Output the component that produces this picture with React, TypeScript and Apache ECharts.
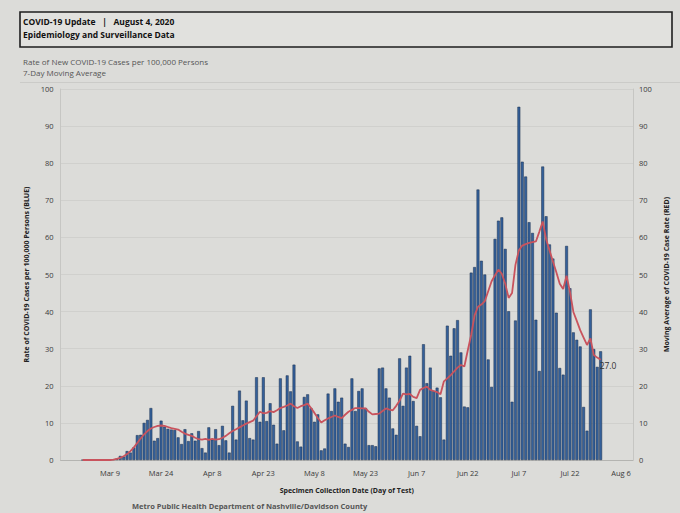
import * as echarts from 'echarts';
import { useEffect, useRef } from 'react';

// x axis runs Feb 24 .. Aug 9, 2020; data starts Mar 1
const axisStart = [2020, 1, 24];
const axisDays = 168;
const dataOffset = 6;
const monthNames = ['Jan', 'Feb', 'Mar', 'Apr', 'May', 'Jun', 'Jul', 'Aug', 'Sep', 'Oct', 'Nov', 'Dec'];
const tickLabels = ['Mar 9', 'Mar 24', 'Apr 8', 'Apr 23', 'May 8', 'May 23', 'Jun 7', 'Jun 22', 'Jul 7', 'Jul 22', 'Aug 6'];

// daily rate per 100,000 (blue bars), Mar 1 .. Jul 31
const dailyRate = [
    0, 0, 0, 0, 0, 0, 0, 0, 0.1, 0.2, 0.4,
    1.1, 0.9, 2.4, 2.0, 3.4, 6.7, 6.8, 10.0, 10.8, 14.0,
    5.2, 5.9, 10.6, 9.0, 8.4, 8.2, 8.1, 6.1, 4.3, 8.3, 5.1,
    7.2, 5.2, 7.8, 3.2, 2.0, 8.8, 5.5, 8.3, 4.0, 9.2,
    5.3, 2.0, 14.6, 5.5, 18.7, 10.7, 16.0, 5.9, 5.5, 22.3,
    10.3, 22.3, 10.5, 15.3, 9.5, 4.4, 22.0, 8.0, 22.8, 18.5,
    25.7, 5.0, 3.6, 17.0, 17.7, 14.0, 10.3, 12.3, 2.6, 3.1,
    17.9, 13.2, 19.3, 15.7, 16.8, 4.4, 3.5, 22.0, 13.2, 18.6,
    19.3, 14.0, 4.0, 4.0, 3.7, 24.7, 24.9, 19.3, 16.8, 8.5, 6.8,
    27.4, 14.6, 24.9, 28.1, 15.9, 9.2, 6.4, 31.2, 20.7, 24.9,
    18.6, 19.5, 16.9, 5.5, 36.2, 28.1, 35.5, 37.7, 29.0, 14.4,
    14.2, 50.5, 52.0, 72.9, 53.7, 50.0, 27.1, 19.7, 59.6, 64.5,
    65.4, 56.9, 40.1, 15.7, 37.6, 95.2, 80.4, 76.4, 64.1, 61.2,
    37.8, 24.0, 79.1, 65.7, 58.1, 54.3, 39.7, 24.8, 23.0, 57.7,
    46.3, 34.4, 32.4, 30.6, 14.3, 7.9, 40.6, 29.9, 25.1, 29.3
];

// 7-day moving average (red line), Mar 1 .. Jul 31
const movingAvg = [
    0, 0, 0, 0, 0, 0, 0, 0, 0,
    0.1, 0.3, 0.6, 1.0, 1.6, 2.4, 3.4, 4.6, 5.8, 6.9, 7.8, 8.5, 8.9, 9.2, 9.3, 9.2, 8.9, 8.6, 8.4, 8.2, 7.6, 7.1,
    6.8, 6.5, 6.0, 5.6, 5.5, 5.7, 5.4, 5.7, 5.5, 5.6, 6.0, 6.5, 7.2, 7.8, 8.3,
    8.8, 9.3, 9.8, 10.2, 10.6, 11.8, 13.0, 12.6, 12.7, 13.2, 12.9, 13.4, 14.0, 14.3, 14.7,
    15.2, 14.5, 14.0, 14.5, 14.8, 15.2, 14.0, 12.7, 11.3, 10.1, 10.7, 11.2, 11.6, 12.0, 11.6, 11.3,
    12.2, 13.0, 13.5, 14.0, 14.0, 13.9, 13.9, 13.0, 12.3, 12.4, 12.5, 13.2, 13.9, 13.6, 13.4,
    14.6, 16.0, 17.9, 17.7, 17.8, 17.0, 16.7, 18.9, 19.4, 19.8, 18.9, 18.6, 18.3, 17.7, 21.2,
    22.0, 22.9, 23.9, 24.9, 25.6, 25.2, 29.5, 33.7, 39.0, 41.3, 41.9, 42.8, 45.5, 48.2, 49.8,
    51.3, 50.2, 47.5, 43.7, 45.0, 52.6, 56.5, 57.8, 58.2, 58.5, 58.7, 58.9, 61.5, 64.3, 59.5,
    56.5, 53.5, 50.6, 47.5, 46.1, 49.7, 45.3, 39.9, 37.5, 35.0, 33.0, 31.0, 32.8, 28.3, 27.6, 27.0
];

const categories: string[] = [];
for (let i = 0; i < axisDays; i++) {
    const d = new Date(axisStart[0], axisStart[1], axisStart[2] + i);
    categories.push(monthNames[d.getMonth()] + ' ' + d.getDate());
}
const pad = new Array(dataOffset).fill(null);

const FONT = '"Open Sans", "Noto Sans", sans-serif';

const App = () => {
    const divRef = useRef<HTMLDivElement>(null);

    useEffect(() => {
        document.body.style.margin = '0';
        const chart = echarts.init(divRef.current!, null, { renderer: 'svg' });

        chart.setOption({
            animation: false,
            backgroundColor: '#dcdcd9',
            textStyle: { fontFamily: FONT },
            grid: { left: 60.6, right: 47, top: 89, bottom: 53 },
            xAxis: {
                type: 'category',
                data: categories,
                boundaryGap: true,
                axisTick: { show: false },
                axisLine: { lineStyle: { color: '#b4b4b1', width: 1 } },
                axisLabel: {
                    interval: (index: number, value: string) => tickLabels.includes(value),
                    fontSize: 7.5,
                    color: '#3a3a3a',
                    margin: 9,
                    fontFamily: FONT
                },
                name: 'Specimen Collection Date (Day of Test)',
                nameLocation: 'middle',
                nameGap: 27,
                nameTextStyle: { fontSize: 7, fontWeight: 'bold', color: '#222', fontFamily: FONT }
            },
            yAxis: [
                {
                    type: 'value', min: 0, max: 100, interval: 10, position: 'left',
                    axisLine: { show: true, lineStyle: { color: '#c6c6c3' } },
                    axisTick: { show: false },
                    splitLine: { lineStyle: { color: '#cacac7', width: 0.7 } },
                    axisLabel: { fontSize: 7.5, color: '#3a3a3a', margin: 7, fontFamily: FONT },
                    name: 'Rate of COVID-19 Cases per 100,000 Persons (BLUE)',
                    nameLocation: 'middle',
                    nameGap: 27,
                    nameRotate: 90,
                    nameTextStyle: { fontSize: 7, fontWeight: 'bold', color: '#222', fontFamily: FONT }
                },
                {
                    type: 'value', min: 0, max: 100, interval: 10, position: 'right',
                    axisLine: { show: true, lineStyle: { color: '#c6c6c3' } },
                    axisTick: { show: false },
                    splitLine: { show: false },
                    axisLabel: { fontSize: 7.5, color: '#3a3a3a', margin: 6, fontFamily: FONT },
                    name: 'Moving Average of COVID-19 Case Rate (RED)',
                    nameLocation: 'middle',
                    nameGap: 27,
                    nameRotate: 90,
                    nameTextStyle: { fontSize: 7, fontWeight: 'bold', color: '#222', fontFamily: FONT }
                }
            ],
            series: [
                {
                    type: 'bar',
                    data: [...pad, ...dailyRate],
                    barCategoryGap: '16%',
                    itemStyle: { color: '#34609a', borderColor: '#1b2f4c', borderWidth: 0.5 },
                    silent: true
                },
                {
                    type: 'line',
                    yAxisIndex: 1,
                    data: [...pad, ...movingAvg],
                    symbol: 'none',
                    lineStyle: { color: '#c9535d', width: 1.8 },
                    endLabel: {
                        show: true,
                        formatter: (p: any) => Number(p.value).toFixed(1),
                        fontSize: 8.5,
                        color: '#333',
                        distance: 1,
                        offset: [-2, 6],
                        fontFamily: FONT
                    },
                    silent: true,
                    z: 3
                }
            ],
            graphic: [
                {
                    type: 'rect',
                    shape: { x: 20, y: 12, width: 652, height: 35 },
                    style: { fill: '#e1e1de', stroke: '#1e1e1e', lineWidth: 1.6 }
                },
                {
                    type: 'text', x: 23, y: 21.5,
                    style: { text: 'COVID-19 Update   |   August 4, 2020', font: 'bold 8.5px ' + FONT, fill: '#111', verticalAlign: 'middle' }
                },
                {
                    type: 'text', x: 23, y: 34.5,
                    style: { text: 'Epidemiology and Surveillance Data', font: 'bold 8.5px ' + FONT, fill: '#111', verticalAlign: 'middle' }
                },
                {
                    type: 'text', x: 23, y: 61.5,
                    style: { text: 'Rate of New COVID-19 Cases per 100,000 Persons', font: '8px ' + FONT, fill: '#555', verticalAlign: 'middle' }
                },
                {
                    type: 'text', x: 23, y: 72.5,
                    style: { text: '7-Day Moving Average', font: '8px ' + FONT, fill: '#555', verticalAlign: 'middle' }
                },
                {
                    type: 'line',
                    shape: { x1: 20, y1: 82.5, x2: 680, y2: 82.5 },
                    style: { stroke: '#cbcbc8', lineWidth: 1 }
                },
                {
                    type: 'text', x: 132, y: 502,
                    style: { text: 'Metro Public Health Department of Nashville/Davidson County', font: 'bold 7.5px ' + FONT, fill: '#555', verticalAlign: 'top' }
                }
            ]
        });

        return () => {
            chart.dispose();
        };
    }, []);

    return <div ref={divRef} style={{ width: '680px', height: '513px' }}></div>;
};

export default App;
